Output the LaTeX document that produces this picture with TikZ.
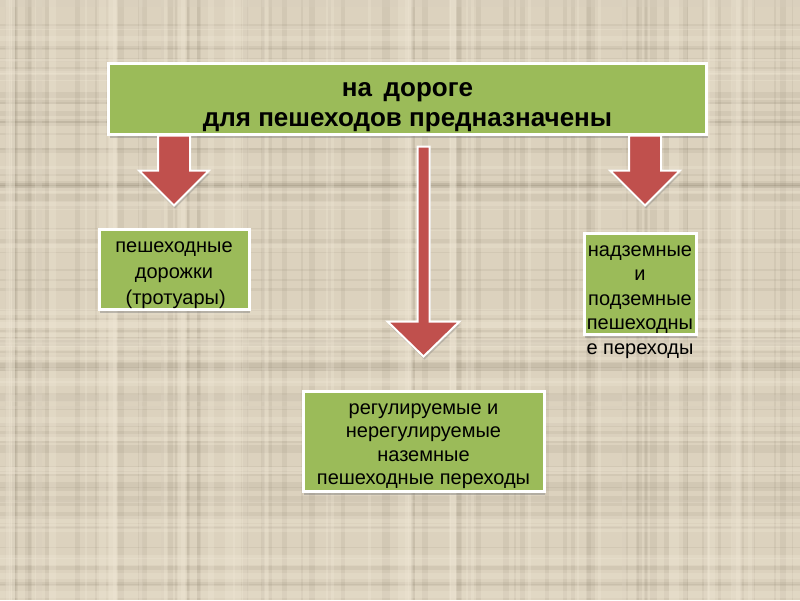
\documentclass[tikz,border=0pt]{standalone}
\usepackage{fontspec}
\setmainfont{Liberation Sans}
\usetikzlibrary{positioning,calc,shadows}
\definecolor{cloth}{HTML}{DCD2BE}
\definecolor{clothdark}{HTML}{8C806C}
\definecolor{clothlight}{HTML}{F2EAD8}
\definecolor{leaf}{HTML}{9BBB59}
\definecolor{brick}{HTML}{C0504D}
\tikzset{
  blk/.style={draw=white, line width=3pt, fill=leaf, align=center, inner sep=2pt,
    drop shadow={shadow xshift=1pt, shadow yshift=-4pt, opacity=.45}},
  blkt/.style={blk, font=\fontsize{26}{30}\selectfont\bfseries},
  blks/.style={blk, font=\fontsize{20}{24}\selectfont},
  txt/.style={align=center, inner sep=0pt, font=\fontsize{20}{24.5}\selectfont},
  barrow/.style={draw=white, line width=2pt, fill=brick, line join=miter,
    drop shadow={shadow xshift=1pt, shadow yshift=-3pt, opacity=.35}},
}
\begin{document}
\begin{tikzpicture}[x=1pt, y=-1pt]
        % cloth background
        \fill[cloth] (0,0) rectangle (800,600);
        \pgfmathsetseed{11}
        \foreach \i in {1,...,70} {
          \pgfmathsetmacro\pp{rnd*600}\pgfmathsetmacro\ww{1+rnd*6}
          \fill[clothdark, opacity=.12] (0,\pp) rectangle (800,\pp+\ww);
          \pgfmathsetmacro\qq{rnd*800}\pgfmathsetmacro\vv{1+rnd*6}
          \fill[clothdark, opacity=.12] (\qq,0) rectangle (\qq+\vv,600);
        }
        \foreach \i in {1,...,40} {
          \pgfmathsetmacro\pp{rnd*600}\pgfmathsetmacro\ww{2+rnd*8}
          \fill[clothlight, opacity=.25] (0,\pp) rectangle (800,\pp+\ww);
          \pgfmathsetmacro\qq{rnd*800}\pgfmathsetmacro\vv{2+rnd*8}
          \fill[clothlight, opacity=.25] (\qq,0) rectangle (\qq+\vv,600);
        }
        % boxes
        \node[blkt, minimum width=598pt, minimum height=71pt] (top) at (407.5,98.5) {};
        \node[txt, font=\fontsize{26}{30}\selectfont\bfseries] (toptxt) at (407.5,107)
          {на\, дороге\\для пешеходов предназначены};
        \node[blks, minimum width=150pt, minimum height=80pt] (walk) at (174,269) {};
        \node[txt, font=\fontsize{20}{26}\selectfont] (walktxt) at (174,275.5)
          {пешеходные\\дорожки\\\,(тротуары)};
        \node[blks, minimum width=112pt, minimum height=101pt] (over) at (640,283.5) {};
        \node[txt] (overtxt) at (640,302) {надземные\\и\\подземные\\пешеходны\\е переходы};
        \node[blks, minimum width=241pt, minimum height=100pt] (cross) at (423.5,441) {};
        \node[txt, font=\fontsize{20}{23.5}\selectfont] (crosstxt) at (423.5,446)
          {регулируемые и\\нерегулируемые\\наземные\\пешеходные переходы};
        % block arrows
        \coordinate (a1) at (walk.north |- top.south);
        \coordinate (a2) at ($(cross.north |- top.south)+(0,11)$);
        \coordinate (a3) at ($(over.north |- top.south)+(5,0)$);
        \draw[barrow, shift={(a1)}] (-16,0) -- (16,0) -- (16,35) -- (35,35) -- (0,70)
          -- (-35,35) -- (-16,35) -- cycle;
        \draw[barrow, shift={(a3)}] (-16,0) -- (16,0) -- (16,35) -- (35,35) -- (0,70)
          -- (-35,35) -- (-16,35) -- cycle;
        \draw[barrow, shift={(a2)}] (-6,0) -- (6,0) -- (6,175) -- (36,175) -- (0,210)
          -- (-36,175) -- (-6,175) -- cycle;
\end{tikzpicture}
\end{document}
